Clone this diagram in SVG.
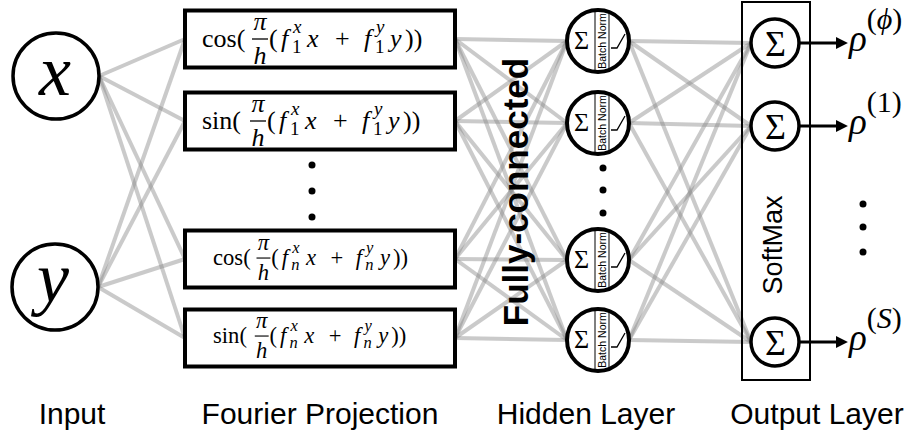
<svg xmlns="http://www.w3.org/2000/svg" width="922" height="438" viewBox="0 0 922 438">
<defs>
<style>
.conn line{stroke:#8a8a8a;stroke-opacity:.45;stroke-width:4}
.nc{fill:#fff;stroke:#000;stroke-width:3.5}
.box{fill:#fff;stroke:#000;stroke-width:4}
.m{font-family:"Liberation Serif","Times New Roman",serif;font-size:26px;fill:#000}
.i{font-style:italic}
.s{font-size:19px}
.fb{stroke:#000;stroke-width:1.3}
.hc{fill:#fff;stroke:#000;stroke-width:4}
.sep{stroke:#000;stroke-width:1}
.bn{font-family:"Liberation Sans",Arial,sans-serif;font-size:10.5px;text-anchor:middle}
.relu{fill:none;stroke:#000;stroke-width:1.3}
.sig{font-family:"Liberation Serif","Times New Roman",serif;text-anchor:middle}
.lbl{font-family:"Liberation Sans",Arial,sans-serif;font-size:30px;text-anchor:middle;fill:#000}
.arr{stroke:#000;stroke-width:3;marker-end:url(#ah)}
.rho{font-family:"Liberation Serif","Times New Roman",serif;font-size:37px;font-style:italic}
.sup{font-family:"Liberation Serif","Times New Roman",serif;font-size:30px;font-style:normal}
</style>
<marker id="ah" viewBox="0 0 10 10" refX="3.4" refY="5" markerWidth="4" markerHeight="4" orient="auto" markerUnits="strokeWidth">
<path d="M0,0L10,5L0,10z" fill="#000"/>
</marker>
</defs>
<rect width="922" height="438" fill="#fff"/>

<g id="connectors" class="conn">
<line x1="99" y1="76" x2="185" y2="39"/><line x1="99" y1="76" x2="185" y2="121"/><line x1="99" y1="76" x2="185" y2="259"/><line x1="99" y1="76" x2="185" y2="338"/>
<line x1="98" y1="287" x2="185" y2="39"/><line x1="98" y1="287" x2="185" y2="121"/><line x1="98" y1="287" x2="185" y2="259"/><line x1="98" y1="287" x2="185" y2="338"/>
<line x1="455" y1="39" x2="567" y2="41"/><line x1="455" y1="39" x2="567" y2="123"/><line x1="455" y1="39" x2="567" y2="260"/><line x1="455" y1="39" x2="567" y2="340"/>
<line x1="455" y1="121" x2="567" y2="41"/><line x1="455" y1="121" x2="567" y2="123"/><line x1="455" y1="121" x2="567" y2="260"/><line x1="455" y1="121" x2="567" y2="340"/>
<line x1="455" y1="259" x2="567" y2="41"/><line x1="455" y1="259" x2="567" y2="123"/><line x1="455" y1="259" x2="567" y2="260"/><line x1="455" y1="259" x2="567" y2="340"/>
<line x1="455" y1="338" x2="567" y2="41"/><line x1="455" y1="338" x2="567" y2="123"/><line x1="455" y1="338" x2="567" y2="260"/><line x1="455" y1="338" x2="567" y2="340"/>
<line x1="629" y1="41" x2="751" y2="43"/><line x1="629" y1="41" x2="751" y2="126"/><line x1="629" y1="41" x2="751" y2="342"/>
<line x1="629" y1="123" x2="751" y2="43"/><line x1="629" y1="123" x2="751" y2="126"/><line x1="629" y1="123" x2="751" y2="342"/>
<line x1="629" y1="260" x2="751" y2="43"/><line x1="629" y1="260" x2="751" y2="126"/><line x1="629" y1="260" x2="751" y2="342"/>
<line x1="629" y1="340" x2="751" y2="43"/><line x1="629" y1="340" x2="751" y2="126"/><line x1="629" y1="340" x2="751" y2="342"/>
</g>

<g id="input-x">
<circle class="nc" cx="56" cy="76" r="43"/>
<text class="m i" x="55" y="95" text-anchor="middle" style="font-size:72px">x</text>
</g>
<g id="input-y">
<circle class="nc" cx="55" cy="287" r="43"/>
<text class="m i" x="53" y="302" text-anchor="middle" style="font-size:72px">y</text>
</g>

<g id="fourier-1">
<rect class="box" x="185" y="10.5" width="270" height="57"/>
<g transform="translate(202,47)">
<text class="m" x="0" y="0">cos(</text>
<text class="m i" x="58" y="-17" text-anchor="middle">π</text>
<line class="fb" x1="50" y1="-8" x2="66" y2="-8"/>
<text class="m i" x="58" y="17" text-anchor="middle">h</text>
<text class="m" x="67" y="0">(</text>
<text class="m i" x="79" y="0">f</text>
<text class="m i s" x="91" y="-14">x</text>
<text class="m s" x="90" y="6">1</text>
<text class="m i" x="105" y="0">x</text>
<text class="m" x="133" y="0">+</text>
<text class="m i" x="162" y="0">f</text>
<text class="m i s" x="174" y="-14">y</text>
<text class="m s" x="173" y="6">1</text>
<text class="m i" x="188" y="0">y</text>
<text class="m" x="203" y="0">))</text>
</g>
</g>

<g id="fourier-2">
<rect class="box" x="185" y="92.5" width="270" height="57"/>
<g transform="translate(202,129)">
<text class="m" x="0" y="0">sin(</text>
<text class="m i" x="56" y="-17" text-anchor="middle">π</text>
<line class="fb" x1="48" y1="-8" x2="64" y2="-8"/>
<text class="m i" x="56" y="17" text-anchor="middle">h</text>
<text class="m" x="65" y="0">(</text>
<text class="m i" x="77" y="0">f</text>
<text class="m i s" x="89" y="-14">x</text>
<text class="m s" x="88" y="6">1</text>
<text class="m i" x="103" y="0">x</text>
<text class="m" x="131" y="0">+</text>
<text class="m i" x="160" y="0">f</text>
<text class="m i s" x="172" y="-14">y</text>
<text class="m s" x="171" y="6">1</text>
<text class="m i" x="186" y="0">y</text>
<text class="m" x="201" y="0">))</text>
</g>
</g>

<g id="fourier-3">
<rect class="box" x="185" y="230.5" width="270" height="57"/>
<g transform="translate(213,265) scale(0.87)">
<text class="m" x="0" y="0">cos(</text>
<text class="m i" x="58" y="-17" text-anchor="middle">π</text>
<line class="fb" x1="50" y1="-8" x2="66" y2="-8"/>
<text class="m i" x="58" y="17" text-anchor="middle">h</text>
<text class="m" x="67" y="0">(</text>
<text class="m i" x="79" y="0">f</text>
<text class="m i s" x="91" y="-14">x</text>
<text class="m i s" x="90" y="6">n</text>
<text class="m i" x="107" y="0">x</text>
<text class="m" x="135" y="0">+</text>
<text class="m i" x="164" y="0">f</text>
<text class="m i s" x="176" y="-14">y</text>
<text class="m i s" x="175" y="6">n</text>
<text class="m i" x="192" y="0">y</text>
<text class="m" x="207" y="0">))</text>
</g>
</g>

<g id="fourier-4">
<rect class="box" x="185" y="309.5" width="270" height="57"/>
<g transform="translate(213,343) scale(0.87)">
<text class="m" x="0" y="0">sin(</text>
<text class="m i" x="56" y="-17" text-anchor="middle">π</text>
<line class="fb" x1="48" y1="-8" x2="64" y2="-8"/>
<text class="m i" x="56" y="17" text-anchor="middle">h</text>
<text class="m" x="65" y="0">(</text>
<text class="m i" x="77" y="0">f</text>
<text class="m i s" x="89" y="-14">x</text>
<text class="m i s" x="88" y="6">n</text>
<text class="m i" x="105" y="0">x</text>
<text class="m" x="133" y="0">+</text>
<text class="m i" x="162" y="0">f</text>
<text class="m i s" x="174" y="-14">y</text>
<text class="m i s" x="173" y="6">n</text>
<text class="m i" x="190" y="0">y</text>
<text class="m" x="205" y="0">))</text>
</g>
</g>

<g id="fourier-dots">
<circle cx="312" cy="165" r="3.5"/><circle cx="312" cy="191" r="3.5"/><circle cx="312" cy="217" r="3.5"/>
</g>

<text id="fully-connected" transform="translate(528,192) rotate(-90)" font-family="Liberation Sans, Arial, sans-serif" font-weight="bold" font-size="35" text-anchor="middle">Fully-connected</text>

<g id="hidden-1">
<circle class="hc" cx="598" cy="41" r="31"/>
<text class="sig" x="581.5" y="49" font-size="26">Σ</text>
<line class="sep" x1="595" y1="10.2" x2="595" y2="71.8"/>
<line class="sep" x1="609" y1="12" x2="609" y2="70"/>
<text class="bn" transform="translate(606,41) rotate(-90)">Batch Norm</text>
<path class="relu" d="M611,48H617L625,34"/>
</g>
<g id="hidden-2">
<circle class="hc" cx="598" cy="123" r="31"/>
<text class="sig" x="581.5" y="131" font-size="26">Σ</text>
<line class="sep" x1="595" y1="92.2" x2="595" y2="153.8"/>
<line class="sep" x1="609" y1="94" x2="609" y2="152"/>
<text class="bn" transform="translate(606,123) rotate(-90)">Batch Norm</text>
<path class="relu" d="M611,130H617L625,116"/>
</g>
<g id="hidden-3">
<circle class="hc" cx="598" cy="260" r="31"/>
<text class="sig" x="581.5" y="268" font-size="26">Σ</text>
<line class="sep" x1="595" y1="229.2" x2="595" y2="290.8"/>
<line class="sep" x1="609" y1="231" x2="609" y2="289"/>
<text class="bn" transform="translate(606,260) rotate(-90)">Batch Norm</text>
<path class="relu" d="M611,267H617L625,253"/>
</g>
<g id="hidden-4">
<circle class="hc" cx="598" cy="340" r="31"/>
<text class="sig" x="581.5" y="348" font-size="26">Σ</text>
<line class="sep" x1="595" y1="309.2" x2="595" y2="370.8"/>
<line class="sep" x1="609" y1="311" x2="609" y2="369"/>
<text class="bn" transform="translate(606,340) rotate(-90)">Batch Norm</text>
<path class="relu" d="M611,347H617L625,333"/>
</g>
<g id="hidden-dots">
<circle cx="603" cy="168" r="3.5"/><circle cx="603" cy="190" r="3.5"/><circle cx="603" cy="213" r="3.5"/>
</g>

<g id="softmax">
<rect x="742" y="2" width="68" height="378" fill="none" stroke="#000" stroke-width="2"/>
<text transform="translate(782,245) rotate(-90)" font-family="Liberation Sans, Arial, sans-serif" font-size="27" text-anchor="middle">SoftMax</text>
</g>

<g id="output-phi">
<circle class="nc" cx="775" cy="43" r="24"/>
<text class="sig" x="775.5" y="55.5" font-size="36">Σ</text>
<line class="arr" x1="799" y1="43" x2="840" y2="43"/>
<text class="rho" x="849" y="51">ρ<tspan class="sup" dy="-22">(</tspan><tspan class="sup" style="font-style:italic">ϕ</tspan><tspan class="sup">)</tspan></text>
</g>
<g id="output-1">
<circle class="nc" cx="775" cy="126" r="24"/>
<text class="sig" x="775.5" y="138.5" font-size="36">Σ</text>
<line class="arr" x1="799" y1="126" x2="840" y2="126"/>
<text class="rho" x="849" y="134">ρ<tspan class="sup" dy="-22">(1)</tspan></text>
</g>
<g id="output-S">
<circle class="nc" cx="775" cy="342" r="24"/>
<text class="sig" x="775.5" y="354.5" font-size="36">Σ</text>
<line class="arr" x1="799" y1="342" x2="840" y2="342"/>
<text class="rho" x="849" y="350">ρ<tspan class="sup" dy="-22">(</tspan><tspan class="sup" style="font-style:italic">S</tspan><tspan class="sup">)</tspan></text>
</g>
<g id="output-dots">
<circle cx="863" cy="204" r="3.5"/><circle cx="863" cy="227" r="3.5"/><circle cx="863" cy="252" r="3.5"/>
</g>

<g id="labels">
<text class="lbl" x="72" y="424">Input</text>
<text class="lbl" x="320" y="424">Fourier Projection</text>
<text class="lbl" x="586" y="424">Hidden Layer</text>
<text class="lbl" x="817" y="424">Output Layer</text>
</g>
</svg>
